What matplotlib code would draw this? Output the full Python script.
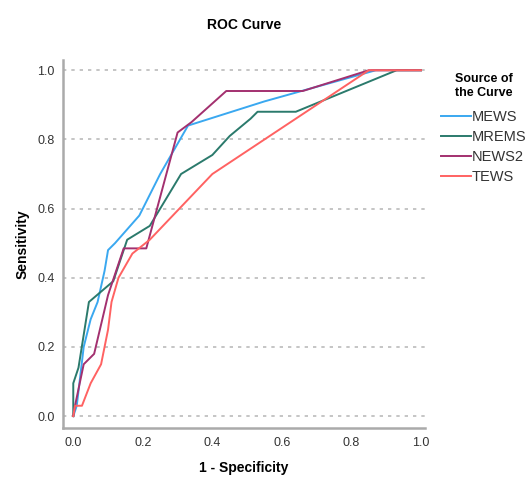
import matplotlib
matplotlib.use("Agg")
import matplotlib.pyplot as plt

# ROC points (1 - specificity, sensitivity)
mews_x = [0.0, 0.01, 0.03, 0.05, 0.07, 0.09, 0.10, 0.12, 0.19, 0.25, 0.33, 0.55, 0.87, 1.0]
mews_y = [0.0, 0.03, 0.20, 0.28, 0.33, 0.42, 0.48, 0.50, 0.58, 0.70, 0.84, 0.91, 1.0, 1.0]

mrems_x = [0.0, 0.0, 0.015, 0.045, 0.115, 0.155, 0.22, 0.31, 0.40, 0.45, 0.51, 0.53, 0.64, 0.93, 1.0]
mrems_y = [0.0, 0.095, 0.14, 0.33, 0.39, 0.51, 0.55, 0.70, 0.755, 0.81, 0.86, 0.88, 0.88, 1.0, 1.0]

news2_x = [0.0, 0.005, 0.03, 0.06, 0.10, 0.145, 0.21, 0.30, 0.34, 0.44, 0.66, 0.85, 1.0]
news2_y = [0.0, 0.03, 0.15, 0.18, 0.35, 0.485, 0.485, 0.82, 0.85, 0.94, 0.94, 1.0, 1.0]

tews_x = [0.0, 0.005, 0.025, 0.05, 0.08, 0.10, 0.11, 0.13, 0.17, 0.22, 0.40, 0.85, 1.0]
tews_y = [0.0, 0.03, 0.03, 0.095, 0.15, 0.25, 0.33, 0.40, 0.47, 0.51, 0.70, 1.0, 1.0]

labels = ["MEWS", "MREMS", "NEWS2", "TEWS"]
colors = ["#3aa8f0", "#2b7a6c", "#a3306f", "#ff6262"]
ticks = [0.0, 0.2, 0.4, 0.6, 0.8, 1.0]

plt.rcParams["font.family"] = ["Liberation Sans", "DejaVu Sans"]

fig = plt.figure(figsize=(5.31, 4.79), dpi=100)
ax = fig.add_axes([0.119, 0.106, 0.681, 0.769])

series = [(mews_x, mews_y), (mrems_x, mrems_y), (news2_x, news2_y), (tews_x, tews_y)]
for (xs, ys), lab, col in zip(series, labels, colors):
    ax.plot(xs, ys, color=col, lw=1.4, label=lab)

ax.set_xlim(-0.029, 1.011)
ax.set_ylim(-0.035, 1.03)
ax.set_xticks(ticks)
ax.set_yticks(ticks)
ax.set_xticklabels(["%.1f" % t for t in ticks], fontsize=9, color="#333333")
ax.set_yticklabels(["%.1f" % t for t in ticks], fontsize=9, color="#333333")
ax.tick_params(length=0, pad=6)
ax.yaxis.grid(True, linestyle=(0, (2, 3)), color="#bbbbbb", lw=1.2)
ax.set_axisbelow(True)

for side in ["top", "right"]:
    ax.spines[side].set_visible(False)
for side in ["left", "bottom"]:
    ax.spines[side].set_color("#aaaaaa")
    ax.spines[side].set_linewidth(1.8)

ax.set_title("ROC Curve", fontsize=10, fontweight="bold", pad=22)
ax.set_xlabel("1 - Specificity", fontsize=10, fontweight="bold")
ax.set_ylabel("Sensitivity", fontsize=10, fontweight="bold", labelpad=6)
ax.xaxis.set_label_coords(0.5, -0.09)

leg = ax.legend(loc="upper left", bbox_to_anchor=(1.03, 0.98), frameon=False,
                title="Source of\nthe Curve", fontsize=10.5, handlelength=2.0,
                handletextpad=0.1, labelspacing=0.42, borderaxespad=0)
leg.get_title().set_fontweight("bold")
leg.get_title().set_fontsize(9)
leg._legend_box.sep = 8
for t in leg.get_texts():
    t.set_color("#333333")

fig.savefig("out.png", dpi=100)
